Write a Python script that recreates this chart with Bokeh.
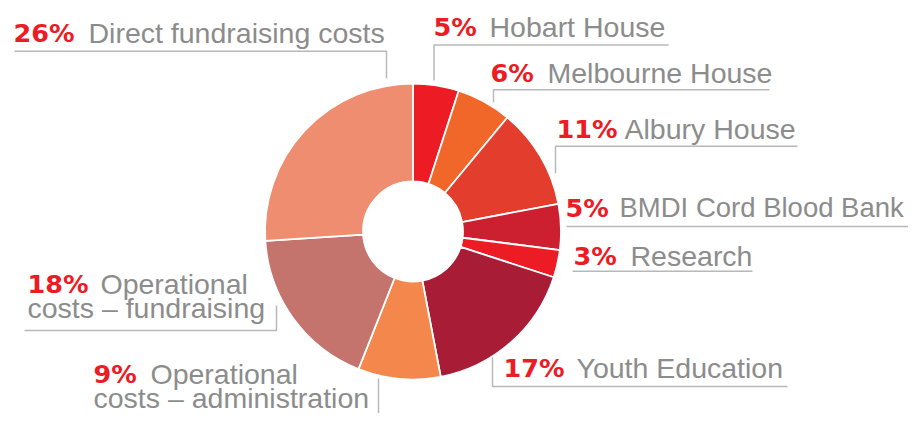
import math
from bokeh.plotting import figure
from bokeh.models import Range1d, ColumnDataSource
from bokeh.core.properties import value
from bokeh.embed import file_html
from bokeh.resources import INLINE

# ---- data ----
categories = ["Hobart House", "Melbourne House", "Albury House", "BMDI Cord Blood Bank",
              "Research", "Youth Education", "Operational costs – administration",
              "Operational costs – fundraising", "Direct fundraising costs"]
shares = [5, 6, 11, 5, 3, 17, 9, 18, 26]
colors = ["#ED1C24", "#F1672A", "#E33D2E", "#CC1F2F", "#ED1C24", "#A81C36",
          "#F4874B", "#C4746C", "#EF8D71"]

# label texts (first line name part, second line)
name_line1 = ["Hobart House", "Melbourne House", "Albury House", "BMDI Cord Blood Bank",
              "Research", "Youth Education", "Operational", "Operational",
              "Direct fundraising costs"]
name_line2 = ["", "", "", "", "", "", "costs – administration", "costs – fundraising", ""]

# ---- layout (pixel coordinates, origin top-left) ----
W, H = 908, 413
CX, CY = 412.5, 231.0
R_OUT, R_IN = 148.0, 50.0
TEXT_DY = 8.5          # renderer places alphabetic text slightly lower; compensate
LINE_GAP = 24
# pct x, name x, baseline y
label_pos = [(433, 489, 35), (490, 547, 80.5), (556, 624, 136.5), (565, 619, 215.5),
             (573, 630, 264), (503, 576, 375.5), (93, 150, 382), (27, 100, 292),
             (13, 88, 41)]
name_sizes = ["28.5px", "28.5px", "28.5px", "27.5px", "28.5px", "28.5px",
              "28.5px", "28.5px", "28.5px"]
leaders = [
    [(433.5, 80), (433.5, 44.5), (668, 44.5)],
    [(493, 101.7), (493, 89.3), (769, 89.3)],
    [(555, 172.7), (555, 145.7), (797, 145.7)],
    [(566, 226), (908, 226)],
    [(572, 270.7), (752, 270.7)],
    [(492, 356.7), (492, 386), (787, 386)],
    [(378, 378), (378, 414)],
    [(276, 305), (276, 330), (24, 330)],
    [(386, 77.7), (386, 50.7), (14, 50.7)],
]

def Y(y):
    return H - y

def TY(y):
    return H - (y - TEXT_DY)

p = figure(width=W, height=H, x_range=Range1d(0, W), y_range=Range1d(0, H),
           output_backend="svg", toolbar_location=None, min_border=0)
p.axis.visible = False
p.grid.visible = False
p.outline_line_color = None
p.background_fill_color = "white"

total = float(sum(shares))
starts, ends = [], []
c = 0.0
for s in shares:
    starts.append(math.pi / 2 - 2 * math.pi * c / total)
    c += s
    ends.append(math.pi / 2 - 2 * math.pi * c / total)

src = ColumnDataSource(dict(x=[CX] * len(shares), y=[Y(CY)] * len(shares),
                            start=starts, end=ends, color=colors, cat=categories))
p.annular_wedge(x="x", y="y", inner_radius=R_IN, outer_radius=R_OUT,
                start_angle="start", end_angle="end", direction="clock",
                fill_color="color", line_color="white", line_width=1.8, source=src)

# leader lines
p.multi_line(xs=[[pt[0] for pt in l] for l in leaders],
             ys=[[Y(pt[1]) for pt in l] for l in leaders],
             line_color="#B8B8B8", line_width=1.5)

pct = ["%d%%" % s for s in shares]
p.text(x=[lp[0] for lp in label_pos], y=[TY(lp[2]) for lp in label_pos], text=pct,
       text_font=value("DejaVu Sans"), text_font_style="bold", text_font_size="25.5px",
       text_color="#ED1C24", text_baseline="alphabetic", text_align="left")
name_src = ColumnDataSource(dict(x=[lp[1] for lp in label_pos],
                                 y=[TY(lp[2]) for lp in label_pos],
                                 text=name_line1, size=name_sizes))
p.text(x="x", y="y", text="text", text_font_size="size", source=name_src,
       text_font=value("Liberation Sans"),
       text_color="#8C8C8C", text_baseline="alphabetic", text_align="left")
l2x = [label_pos[i][0] for i in range(len(shares)) if name_line2[i]]
l2y = [TY(label_pos[i][2] + LINE_GAP) for i in range(len(shares)) if name_line2[i]]
l2t = [t for t in name_line2 if t]
p.text(x=l2x, y=l2y, text=l2t, text_font=value("Liberation Sans"), text_font_size="28.5px",
       text_color="#8C8C8C", text_baseline="alphabetic", text_align="left")

open("out.html", "w").write(file_html(p, INLINE))
